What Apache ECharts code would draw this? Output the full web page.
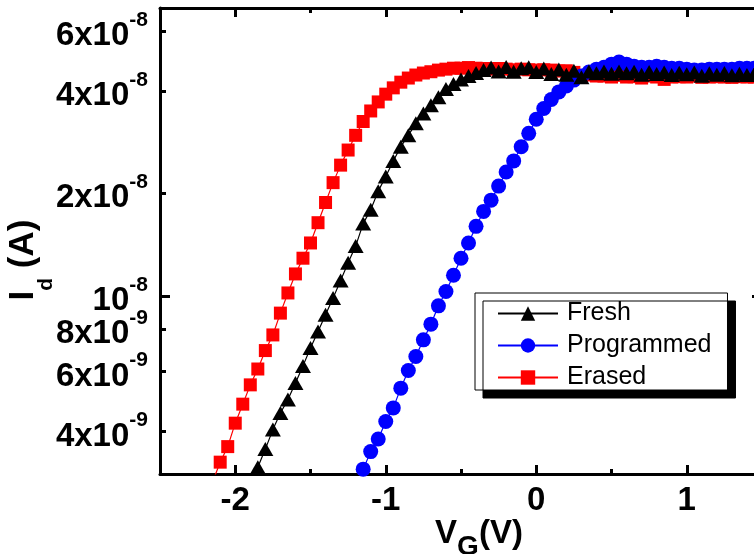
<!DOCTYPE html>
<html>
<head>
<meta charset="utf-8">
<script src="https://cdn.jsdelivr.net/npm/echarts@6/dist/echarts.min.js"></script>
<style>
  html, body { margin: 0; padding: 0; background: #ffffff; }
  #chart { width: 754px; height: 554px; }
</style>
</head>
<body>
<div id="chart"></div>
<script>
// Gate-voltage sweep (V)
const gateVoltage = [
  -2.15, -2.10, -2.05, -2.00, -1.95, -1.90, -1.85, -1.80, -1.75, -1.70,
  -1.65, -1.60, -1.55, -1.50, -1.45, -1.40, -1.35, -1.30, -1.25, -1.20,
  -1.15, -1.10, -1.05, -1.00, -0.95, -0.90, -0.85, -0.80, -0.75, -0.70,
  -0.65, -0.60, -0.55, -0.50, -0.45, -0.40, -0.35, -0.30, -0.25, -0.20,
  -0.15, -0.10, -0.05, 0.00, 0.05, 0.10, 0.15, 0.20, 0.25, 0.30,
  0.35, 0.40, 0.45, 0.50, 0.55, 0.60, 0.65, 0.70, 0.75, 0.80,
  0.85, 0.90, 0.95, 1.00, 1.05, 1.10, 1.15, 1.20, 1.25, 1.30,
  1.35, 1.40, 1.45, 1.50
];

// Drain current (nA) for each state, aligned with gateVoltage
const freshCurrent = [
  null, null, null, null, null, 2.80, 3.14, 3.55, 4.05, 4.53,
  4.96, 5.55, 6.23, 7.03, 7.86, 8.80, 9.85, 11.1, 12.5, 14.0,
  16.3, 17.9, 20.3, 22.4, 24.9, 27.4, 29.6, 32.1, 34.3, 36.3,
  38.3, 40.5, 41.9, 43.2, 44.2, 45.1, 46.0, 46.8, 45.6, 47.0,
  45.5, 46.6, 46.9, 45.4, 46.5, 44.8, 46.2, 44.6, 45.8, 43.8,
  45.6, 45.0, 45.6, 44.9, 45.6, 45.0, 45.5, 44.6, 45.4, 44.8,
  45.3, 44.5, 45.2, 44.7, 45.3, 44.3, 45.0, 44.6, 45.1, 44.4,
  44.9, 44.5, 45.0, 44.6
];

const programmedCurrent = [
  null, null, null, null, null, null, null, null, null, null,
  null, null, null, null, null, null, null, null, null, 2.75,
  3.10, 3.49, 3.80, 4.28, 4.69, 5.36, 6.04, 6.64, 7.43, 8.26,
  9.35, 10.3, 11.5, 12.9, 14.3, 16.0, 17.7, 19.1, 21.0, 23.1,
  24.9, 27.4, 30.0, 33.0, 35.5, 37.7, 39.7, 41.3, 43.0, 44.2,
  45.4, 46.3, 46.9, 47.9, 48.6, 47.9, 47.2, 46.9, 46.9, 47.2,
  46.9, 46.6, 46.6, 46.3, 46.0, 46.0, 46.3, 46.3, 46.3, 46.3,
  46.6, 46.6, 46.6, 46.6
];

const erasedCurrent = [
  2.85, 3.25, 3.61, 4.23, 4.81, 5.48, 6.10, 6.91, 7.68, 8.90,
  10.2, 11.6, 12.9, 14.3, 16.4, 18.8, 21.5, 24.2, 26.8, 29.6,
  32.5, 34.9, 37.1, 39.1, 40.8, 42.4, 43.6, 44.5, 45.1, 45.5,
  46.0, 46.3, 46.6, 46.6, 46.8, 46.6, 46.5, 46.3, 46.5, 46.3,
  46.1, 46.3, 46.1, 46.0, 46.1, 46.0, 45.7, 45.8, 45.3, 43.9,
  44.5, 44.2, 44.2, 43.9, 44.4, 43.9, 44.0, 43.6, 44.2, 43.9,
  43.2, 43.9, 44.0, 43.9, 44.2, 43.8, 43.9, 44.0, 43.9, 43.8,
  44.0, 43.9, 43.9, 44.0
];

// Axis ticks and labels
const xMajorTicks = [-2, -1, 0, 1];
const xMinorTicks = [-1.5, -0.5, 0.5];
const yTickValues = [4, 6, 8, 10, 20, 40, 60];          // nA
const yTickMantissa = ['4x10', '6x10', '8x10', '10', '2x10', '4x10', '6x10'];
const yTickExponent = ['-9', '-9', '-9', '-8', '-8', '-8', '-8'];
const yMajorTicks = [10];
const yMinorTicks = [4, 6, 8, 20, 40, 60];

const FONT = '"Liberation Sans", Arial, Helvetica, sans-serif';
const X_MIN = -2.5, X_MAX = 1.5;
const Y_MIN = 3, Y_MAX = 70;

function toPairs(values) {
  const out = [];
  for (let i = 0; i < gateVoltage.length; i++) {
    if (values[i] != null) out.push([gateVoltage[i], values[i]]);
  }
  return out;
}

function yLabel(value) {
  let idx = -1;
  for (let i = 0; i < yTickValues.length; i++) {
    const t = yTickValues[i];
    if (Math.abs(value - t) < 1e-6 * t || Math.abs(Math.pow(10, value) - t) < 1e-6 * t) idx = i;
  }
  if (idx < 0) return '';
  return '{m|' + yTickMantissa[idx] + '}{e|' + yTickExponent[idx] + '}';
}

const axisLine = { show: true, onZero: false, lineStyle: { color: '#000', width: 3 } };

function xAxisDef(position, ticks, len, withLine, withLabels, extra) {
  return Object.assign({
    type: 'value', position: position, min: X_MIN, max: X_MAX,
    axisLine: withLine ? axisLine : { show: false, onZero: false },
    axisTick: { show: true, inside: true, length: len, customValues: ticks,
                lineStyle: { color: '#000', width: 3 } },
    axisLabel: withLabels ? {
      show: true, customValues: ticks, margin: 10,
      fontSize: 33, fontWeight: 'bold', fontFamily: FONT, color: '#000'
    } : { show: false },
    splitLine: { show: false }
  }, extra || {});
}

function yAxisDef(position, ticks, len, withLine, withLabels, extra) {
  return Object.assign({
    type: 'log', logBase: 10, position: position, min: Y_MIN, max: Y_MAX,
    axisLine: withLine ? axisLine : { show: false, onZero: false },
    axisTick: { show: true, inside: true, length: len, customValues: ticks,
                lineStyle: { color: '#000', width: 3 } },
    axisLabel: withLabels ? {
      show: true, customValues: yTickValues, margin: 12,
      formatter: yLabel,
      rich: {
        m: { fontSize: 33, fontWeight: 'bold', fontFamily: FONT, color: '#000',
             lineHeight: 43, verticalAlign: 'bottom' },
        e: { fontSize: 21, fontWeight: 'bold', fontFamily: FONT, color: '#000',
             lineHeight: 8, verticalAlign: 'top' }
      }
    } : { show: false },
    splitLine: { show: false },
    minorTick: { show: false }
  }, extra || {});
}

const chart = echarts.init(document.getElementById('chart'), null, { renderer: 'canvas' });

chart.setOption({
  animation: false,
  backgroundColor: '#ffffff',
  grid: { left: 160, right: -8, top: 8, bottom: 80, containLabel: false, outerBoundsMode: 'none' },
  xAxis: [
    xAxisDef('bottom', xMajorTicks, 9, true, true, {
      name: '{v|V}{g|G}{p|(V)}',
      nameLocation: 'middle', nameGap: 43, nameMoveOverlap: false,
      nameTextStyle: {
        rich: {
          v: { fontSize: 33, fontWeight: 'bold', fontFamily: FONT, color: '#000',
               lineHeight: 32, verticalAlign: 'top', padding: [0, 0, 0, 36] },
          g: { fontSize: 28, fontWeight: 'bold', fontFamily: FONT, color: '#000',
               lineHeight: 44, verticalAlign: 'bottom' },
          p: { fontSize: 33, fontWeight: 'bold', fontFamily: FONT, color: '#000',
               lineHeight: 32, verticalAlign: 'top' }
        }
      }
    }),
    xAxisDef('bottom', xMinorTicks, 5, false, false),
    xAxisDef('top', xMajorTicks, 9, true, false),
    xAxisDef('top', xMinorTicks, 5, false, false)
  ],
  yAxis: [
    yAxisDef('left', yMinorTicks, 6, true, true, {
      name: '{i|I}{d|d}{a| (A)}',
      nameLocation: 'middle', nameGap: 103, nameRotate: 90, nameMoveOverlap: false,
      nameTextStyle: {
        rich: {
          i: { fontSize: 35, fontWeight: 'bold', fontFamily: FONT, color: '#000',
               lineHeight: 35, verticalAlign: 'top' },
          d: { fontSize: 21, fontWeight: 'bold', fontFamily: FONT, color: '#000',
               lineHeight: 51, verticalAlign: 'bottom' },
          a: { fontSize: 35, fontWeight: 'bold', fontFamily: FONT, color: '#000',
               lineHeight: 35, verticalAlign: 'top', padding: [0, 38, 0, 0] }
        }
      }
    }),
    yAxisDef('left', yMajorTicks, 10, false, false),
    yAxisDef('right', yMajorTicks, 10, true, false)
  ],
  legend: {
    data: ['Fresh', 'Programmed', 'Erased'],
    orient: 'vertical', left: 475, top: 293,
    backgroundColor: '#ffffff', borderColor: '#000', borderWidth: 1, borderRadius: 0,
    shadowColor: '#000', shadowBlur: 0, shadowOffsetX: 8, shadowOffsetY: 8,
    padding: [8, 16, 0, 22],
    itemWidth: 60, itemHeight: 18, itemGap: 7,
    textStyle: { fontSize: 25, fontFamily: FONT, color: '#000', lineHeight: 25,
                 padding: [0, 0, 0, 4] }
  },
  series: [
    {
      name: 'Erased', type: 'line', data: toPairs(erasedCurrent),
      symbol: 'rect', symbolSize: 13, showAllSymbol: true, clip: true,
      itemStyle: { color: '#ff0000' }, lineStyle: { color: '#ff0000', width: 1.2 }
    },
    {
      name: 'Programmed', type: 'line', data: toPairs(programmedCurrent),
      symbol: 'circle', symbolSize: 15, showAllSymbol: true, clip: true,
      itemStyle: { color: '#0000ff' }, lineStyle: { color: '#0000ff', width: 1.2 }
    },
    {
      name: 'Fresh', type: 'line', data: toPairs(freshCurrent),
      symbol: 'triangle', symbolSize: [16, 14], showAllSymbol: true, clip: true,
      itemStyle: { color: '#000000' }, lineStyle: { color: '#000000', width: 1.2 }
    }
  ]
});
</script>
</body>
</html>
